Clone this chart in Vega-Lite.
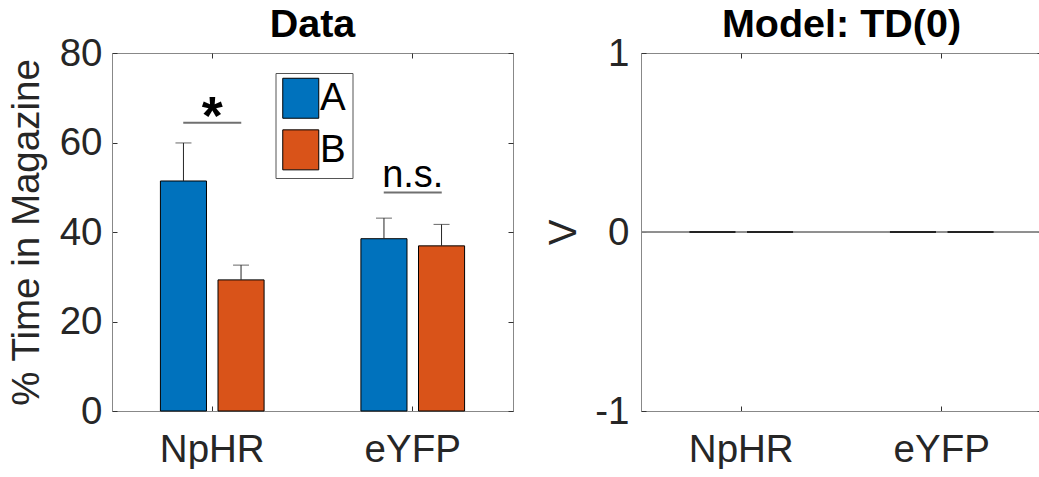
{
  "$schema": "https://vega.github.io/schema/vega-lite/v6.json",
  "padding": {"left": 6, "top": 4, "right": 0, "bottom": 0},
  "background": "white",
  "datasets": {
    "bars": [
      {"cond": "NpHR", "group": "A", "value": 51.4, "upper": 59.9},
      {"cond": "NpHR", "group": "B", "value": 29.3, "upper": 32.6},
      {"cond": "eYFP", "group": "A", "value": 38.5, "upper": 43.1},
      {"cond": "eYFP", "group": "B", "value": 36.9, "upper": 41.7}
    ],
    "sig": [
      {"cond": "NpHR", "y": 64.4, "label": "*", "ty": 61.8},
      {"cond": "eYFP", "y": 48.8, "label": "n.s.", "ty": 50.1}
    ],
    "model": [
      {"cond": "NpHR", "group": "A", "value": 0},
      {"cond": "NpHR", "group": "B", "value": 0},
      {"cond": "eYFP", "group": "A", "value": 0},
      {"cond": "eYFP", "group": "B", "value": 0}
    ]
  },
  "config": {
    "font": "Liberation Sans",
    "view": {"stroke": "#888888", "strokeWidth": 1},
    "axis": {
      "labelFont": "Liberation Sans",
      "titleFont": "Liberation Sans",
      "labelFontSize": 38.5,
      "titleFontSize": 38.5,
      "titleFontWeight": "normal",
      "labelColor": "#262626",
      "titleColor": "#262626",
      "domainColor": "#888888",
      "tickColor": "#333333",
      "tickSize": -5,
      "grid": false
    },
    "title": {"font": "Liberation Sans", "fontSize": 39.5, "fontWeight": "bold", "color": "#000000", "offset": -11},
    "legend": {
      "orient": "none",
      "strokeColor": "#555555",
      "fillColor": "#ffffff",
      "padding": 6,
      "labelFont": "Liberation Sans",
      "labelFontSize": 38.5,
      "labelColor": "#000000",
      "labelOffset": 0,
      "rowPadding": 6.6,
      "symbolType": "M-1,-1.111H1V1.111H-1Z",
      "symbolSize": 1296,
      "symbolStrokeColor": "#000000",
      "symbolStrokeWidth": 1,
      "symbolOpacity": 1
    }
  },
  "resolve": {"scale": {"color": "independent"}, "legend": {"color": "independent"}},
  "spacing": 128,
  "bounds": "flush",
  "hconcat": [
    {
      "width": 401,
      "height": 358,
      "title": "Data",
      "data": {"name": "bars"},
      "resolve": {"axis": {"x": "independent", "y": "independent"}},
      "layer": [
        {
          "mark": {"type": "bar", "stroke": "#000000", "strokeWidth": 1},
          "encoding": {
            "x": {"field": "cond", "type": "nominal", "sort": ["NpHR", "eYFP"],
                  "scale": {"paddingInner": 0.483, "paddingOuter": 0.2415},
                  "axis": {"orient": "bottom", "title": null, "labelAngle": 0, "labelPadding": 25, "values": ["NpHR", "eYFP"]}},
            "xOffset": {"field": "group", "type": "nominal", "sort": ["A", "B"], "scale": {"paddingInner": 0.2, "paddingOuter": 0}},
            "y": {"field": "value", "type": "quantitative",
                  "scale": {"domain": [0, 80], "nice": false, "zero": true},
                  "axis": {"values": [0, 20, 40, 60, 80], "title": "% Time in Magazine", "labelPadding": 15, "titlePadding": 13}},
            "color": {"field": "group", "type": "nominal",
                      "scale": {"domain": ["A", "B"], "range": ["#0072BD", "#D95319"]},
                      "legend": {"title": null, "legendX": 163.5, "legendY": 20}}
          }
        },
        {
          "mark": {"type": "rule", "color": "#262626", "strokeWidth": 1},
          "encoding": {
            "x": {"field": "cond", "type": "nominal", "sort": ["NpHR", "eYFP"],
                  "axis": {"orient": "top", "labels": false, "title": null, "domain": false, "minExtent": 0, "maxExtent": 0}},
            "xOffset": {"field": "group", "type": "nominal", "sort": ["A", "B"]},
            "y": {"field": "value", "type": "quantitative",
                  "axis": {"orient": "right", "labels": false, "title": null, "domain": false, "values": [0, 20, 40, 60, 80], "minExtent": 0, "maxExtent": 0}},
            "y2": {"field": "upper"}
          }
        },
        {
          "mark": {"type": "tick", "color": "#262626", "thickness": 1, "size": 16},
          "encoding": {
            "x": {"field": "cond", "type": "nominal", "sort": ["NpHR", "eYFP"], "axis": null},
            "xOffset": {"field": "group", "type": "nominal", "sort": ["A", "B"]},
            "y": {"field": "upper", "type": "quantitative", "axis": null}
          }
        },
        {
          "data": {"name": "sig"},
          "mark": {"type": "tick", "color": "#333333", "thickness": 2, "size": 58},
          "encoding": {
            "x": {"field": "cond", "type": "nominal", "sort": ["NpHR", "eYFP"], "axis": null},
            "y": {"field": "y", "type": "quantitative", "axis": null}
          }
        },
        {
          "data": {"name": "sig"},
          "transform": [{"filter": "datum.label === '*'"}],
          "mark": {"type": "text", "font": "Liberation Sans", "fontSize": 54, "fontWeight": "bold", "color": "#000000", "baseline": "alphabetic", "align": "center"},
          "encoding": {
            "x": {"field": "cond", "type": "nominal", "sort": ["NpHR", "eYFP"], "axis": null},
            "y": {"field": "ty", "type": "quantitative", "axis": null},
            "text": {"field": "label"}
          }
        },
        {
          "data": {"name": "sig"},
          "transform": [{"filter": "datum.label !== '*'"}],
          "mark": {"type": "text", "font": "Liberation Sans", "fontSize": 38, "color": "#000000", "baseline": "alphabetic", "align": "center"},
          "encoding": {
            "x": {"field": "cond", "type": "nominal", "sort": ["NpHR", "eYFP"], "axis": null},
            "y": {"field": "ty", "type": "quantitative", "axis": null},
            "text": {"field": "label"}
          }
        }
      ]
    },
    {
      "width": 401,
      "height": 358,
      "title": "Model: TD(0)",
      "data": {"name": "model"},
      "resolve": {"axis": {"x": "independent", "y": "independent"}},
      "layer": [
        {
          "mark": {"type": "rule", "color": "#888888", "strokeWidth": 1},
          "encoding": {
            "y": {"datum": 0, "type": "quantitative",
                  "scale": {"domain": [-1, 1], "nice": false},
                  "axis": {"values": [-1, 0, 1], "labelExpr": "'' + datum.value", "title": "V", "labelPadding": 17, "titlePadding": 11}}
          }
        },
        {
          "mark": {"type": "bar", "stroke": "#000000", "strokeWidth": 1.5, "fill": "#000000"},
          "encoding": {
            "x": {"field": "cond", "type": "nominal", "sort": ["NpHR", "eYFP"],
                  "scale": {"paddingInner": 0.483, "paddingOuter": 0.2415},
                  "axis": {"orient": "bottom", "title": null, "labelAngle": 0, "labelPadding": 25}},
            "xOffset": {"field": "group", "type": "nominal", "sort": ["A", "B"], "scale": {"paddingInner": 0.2, "paddingOuter": 0}},
            "y": {"field": "value", "type": "quantitative", "axis": null}
          }
        },
        {
          "mark": {"type": "tick", "opacity": 0},
          "encoding": {
            "x": {"field": "cond", "type": "nominal", "sort": ["NpHR", "eYFP"],
                  "axis": {"orient": "top", "labels": false, "title": null, "domain": false, "minExtent": 0, "maxExtent": 0}},
            "y": {"field": "value", "type": "quantitative",
                  "axis": {"orient": "right", "labels": false, "title": null, "domain": false, "values": [-1, 0, 1], "minExtent": 0, "maxExtent": 0}}
          }
        }
      ]
    }
  ]
}
